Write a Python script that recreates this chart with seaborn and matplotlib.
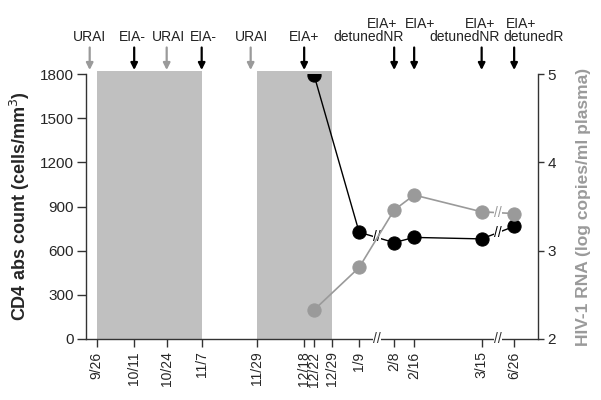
import numpy as np
import pandas as pd
import matplotlib
matplotlib.use('Agg')
import matplotlib.pyplot as plt
import matplotlib.transforms as mtransforms
import seaborn as sns

sns.set_style('ticks')
plt.rcParams['font.family'] = ['Liberation Sans', 'DejaVu Sans']

# x 轴刻度（日期）
tick_labels = ['9/26', '10/11', '10/24', '11/7', '11/29', '12/18', '12/22',
               '12/29', '1/9', '2/8', '2/16', '3/15', '6/26']

# 测量数据
sample_dates = ['12/22', '1/9', '2/8', '2/16', '3/15', '6/26']
cd4_count = [1790, 725, 655, 690, 680, 765]
hiv_rna = [2.33, 2.81, 3.46, 3.63, 3.44, 3.42]

# 顶部事件（上下两行文字）
event_dates = ['9/26', '10/11', '10/24', '11/7', '11/29', '12/18',
               '2/8', '2/16', '3/15', '6/26']
event_upper = ['', '', '', '', '', '', 'EIA+', 'EIA+', 'EIA+', 'EIA+']
event_lower = ['URAI', 'EIA-', 'URAI', 'EIA-', 'URAI', 'EIA+',
               'detunedNR', '', 'detunedNR', 'detunedR']

# 灰色区间
shade_periods = [('9/26', '11/7'), ('11/29', '12/29')]

# 坐标轴断开: (前一日期, 后一日期, 省去的天数)
axis_breaks = [('1/9', '2/8', 16), ('3/15', '6/26', 90)]

# 布局（像素偏移）
upper_dx = [0, 0, 0, 0, 0, 0, -12, 6, -2, 7]
lower_dx = [-7, -2, 2, 2, -5, 0, -26, 0, -17, 19]
arrow_dx = [-7, 0, 0, 0, -6, 0, 0, 0, 0, 0]

GRAY = '#9a9a9a'
SPINE = '#333333'


def to_day(md):
    m, d = map(int, md.split('/'))
    year = 2000 if m >= 9 else 2001
    return (pd.Timestamp(year, m, d) - pd.Timestamp(2000, 9, 26)).days


def to_pos(md):
    day = to_day(md)
    cut = sum(c for a, b, c in axis_breaks if day >= to_day(b))
    return day - cut


fig = plt.figure(figsize=(6.01, 4.0), dpi=100)
ax = fig.add_axes([0.143, 0.1525, 0.752, 0.6625])
ax2 = ax.twinx()

for a, b in shade_periods:
    r = ax.axvspan(to_pos(a), to_pos(b), ymin=0, ymax=1.012, color='#c0c0c0',
                   lw=0, zorder=0)
    r.set_clip_on(False)

xs = [to_pos(d) for d in sample_dates]
df = pd.DataFrame({'x': xs, 'cd4': cd4_count, 'rna': hiv_rna})

sns.lineplot(data=df, x='x', y='cd4', ax=ax, color='black', lw=1,
             marker='o', markersize=9.5, markeredgecolor='black', zorder=3)
sns.lineplot(data=df, x='x', y='rna', ax=ax2, color=GRAY, lw=1.2,
             marker='o', markersize=9.5, markeredgecolor=GRAY,
             markerfacecolor=GRAY, zorder=3)

ax.set_xlim(-4.3, 176.5)
ax.set_ylim(0, 1800)
ax2.set_ylim(2, 5)
ax.set_xlabel('')

ax.set_xticks([to_pos(t) for t in tick_labels])
ax.set_xticklabels(tick_labels, rotation=90, fontsize=10)
ax.set_yticks([0, 300, 600, 900, 1200, 1500, 1800])
ax.tick_params(axis='y', labelsize=11, length=6.5, width=1, color=SPINE, pad=2)
ax.tick_params(axis='x', length=6, width=1, color=SPINE, pad=3)
ax2.set_yticks([2, 3, 4, 5])
ax2.tick_params(axis='y', labelsize=11, length=4, width=1, color=SPINE, pad=3)

ax.set_ylabel('CD4 abs count (cells/mm$^3$)', fontsize=13, fontweight='bold',
              labelpad=6)
ax2.set_ylabel('HIV-1 RNA (log copies/ml plasma)', fontsize=12.5,
               fontweight='bold', color=GRAY, labelpad=14)

ax.spines['top'].set_visible(False)
ax.spines['right'].set_visible(False)
for s in ['top', 'left', 'bottom']:
    ax2.spines[s].set_visible(False)
for sp in [ax.spines['left'], ax.spines['bottom'], ax2.spines['right']]:
    sp.set_color(SPINE)
    sp.set_linewidth(1)

# 断开标记
brk = dict(ha='center', va='center', fontsize=10, clip_on=False, zorder=10,
           bbox=dict(fc='white', ec='none', pad=0.2))
for i, (a, b, c) in enumerate(axis_breaks):
    xb = (to_pos(a) + to_pos(b)) / 2
    ax2.text(xb, 2, '//', color=SPINE, **brk)
    ia, ib = sample_dates.index(a), sample_dates.index(b)
    yb = np.interp(xb, [xs[ia], xs[ib]], [cd4_count[ia], cd4_count[ib]])
    ax.text(xb, yb, '//', color='black', **brk)
    if i == 1:
        yr = np.interp(xb, [xs[ia], xs[ib]], [hiv_rna[ia], hiv_rna[ib]])
        ax2.text(xb, yr, '//', color=GRAY, **brk)

# 顶部事件箭头与标签
trans = mtransforms.blended_transform_factory(ax.transData, ax.transAxes)
px = 72 / fig.dpi
for d, up, lo, udx, ldx, adx in zip(event_dates, event_upper, event_lower,
                                    upper_dx, lower_dx, arrow_dx):
    col = GRAY if lo == 'URAI' else 'black'
    x = to_pos(d)
    atr = mtransforms.offset_copy(trans, fig=fig, x=adx * px, y=0, units='points')
    ax.annotate('', xy=(x, 1.015), xytext=(x, 1.10), xycoords=atr,
                textcoords=atr, annotation_clip=False,
                arrowprops=dict(arrowstyle='-|>', color=col, lw=1.6,
                                mutation_scale=10, shrinkA=0, shrinkB=0))
    for txt, dx, dy in [(up, udx, 13), (lo, ldx, 0)]:
        if not txt:
            continue
        ttr = mtransforms.offset_copy(trans, fig=fig, x=dx * px, y=dy * px,
                                      units='points')
        ax.text(x, 1.113, txt, transform=ttr, ha='center', va='bottom',
                fontsize=10, color='#222222', clip_on=False)

fig.savefig('out.png', dpi=100)
